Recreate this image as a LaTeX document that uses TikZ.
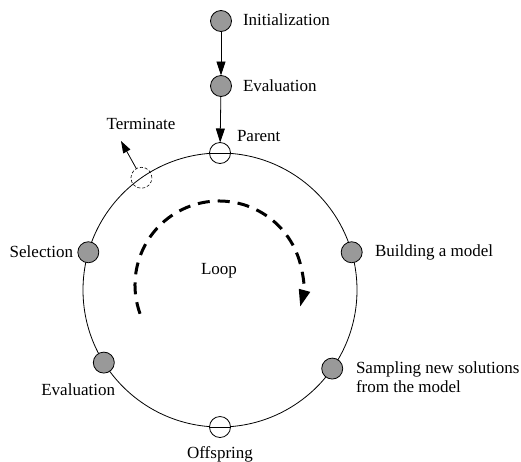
\documentclass[tikz,border=0pt]{standalone}
\usepackage{fontspec}
\setmainfont{Liberation Serif}
\usetikzlibrary{arrows.meta}
\definecolor{dotgray}{gray}{0.6}
\begin{document}
\begin{tikzpicture}[x=1pt,y=-1pt,
  font=\fontsize{17}{19}\selectfont,
  dot/.style={circle,draw,fill=dotgray,minimum size=21pt,inner sep=0pt,outer sep=0pt,line width=0.8pt},
  hollow/.style={circle,draw,fill=white,minimum size=21pt,inner sep=0pt,outer sep=0pt,line width=0.8pt},
  lbl/.style={inner sep=0pt,outer sep=0pt},
  flow/.style={line width=0.8pt,-{Triangle[length=14pt,width=9pt]}}]
\useasboundingbox (0,0) rectangle (521,461);
% big loop circle
\node[circle,draw,line width=0.8pt,minimum size=274pt,inner sep=0pt,outer sep=0pt] (ring) at (220,290) {};
% nodes on top
\node[dot] (init) at (221,21) {};
\node[dot] (eval1) at (221,86) {};
% nodes on ring
\node[hollow] (parent) at (ring.90) {};
\node[dot] (build) at (ring.16) {};
\node[dot] (sample) at (ring.-35) {};
\node[hollow] (off) at (ring.-90) {};
\node[dot] (eval2) at (ring.-148) {};
\node[dot] (sel) at (ring.164) {};
\node[circle,draw,dashed,dash pattern=on 3pt off 2pt,minimum size=21pt,inner sep=0pt,outer sep=0pt,line width=0.6pt] (term) at (ring.125) {};
% redraw ring line through hollow nodes
\draw[line width=0.8pt] (parent.west) -- (parent.east);
\draw[line width=0.8pt] (off.west) -- (off.east);
% labels
\node[lbl,anchor=west] (linit) at (243,20) {Initialization};
\node[lbl,anchor=west] (leval1) at (243,86) {Evaluation};
\node[lbl,anchor=west] (lparent) at (237,136) {Parent};
\node[lbl,anchor=west] (lbuild) at (375,252) {Building a model};
\node[lbl,anchor=west,align=left] (lsample) at (356,377) {Sampling new solutions\\from the model};
\node[lbl,anchor=base] (loff) at (220,458) {Offspring};
\node[lbl,anchor=east] (leval2) at (115,390) {Evaluation};
\node[lbl,anchor=east] (lsel) at (73,252) {Selection};
\node[lbl] (lterm) at (141,124) {Terminate};
\node[lbl] (lloop) at (219,271) {Loop};
% connectors
\draw[flow] (init) -- (eval1);
\draw[flow] (eval1) -- (parent);
\coordinate (tend) at (121,141);
\draw[line width=0.8pt,-{Triangle[length=12pt,width=8pt]}] (term) -- (tend);
% loop arrow
\draw[line width=3pt,dash pattern=on 12pt off 8pt,-{Triangle[length=17pt,width=11pt]}]
  (219,285) ++(160:84) arc[start angle=160,end angle=375,radius=84];
\end{tikzpicture}
\end{document}
